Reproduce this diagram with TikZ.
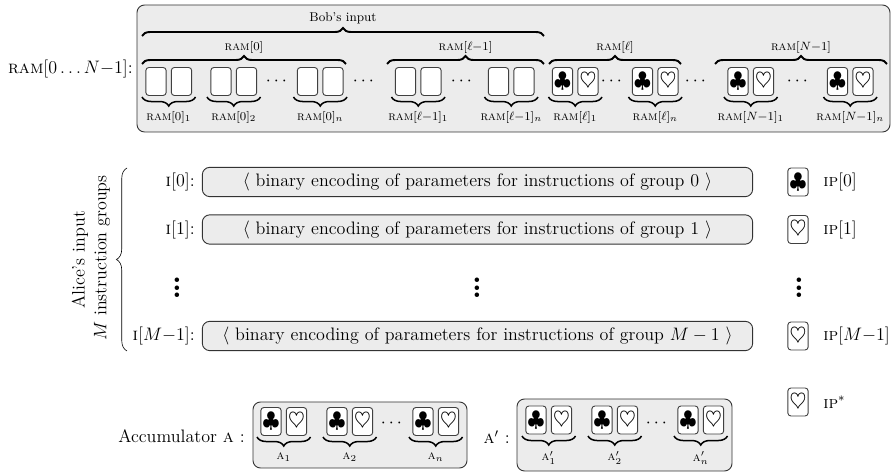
\documentclass[tikz,border=0pt,12pt]{standalone}
\usepackage{amssymb,amsmath}
\usepackage{tikz}
\usetikzlibrary{decorations.pathreplacing}

\definecolor{boxgray}{gray}{0.925}
\newcommand{\ram}{\text{\textsc{ram}}}
\newcommand{\ipt}{\text{\textsc{ip}}}
\newcommand{\clubs}{\large$\clubsuit$}
\newcommand{\hearts}{\raisebox{1pt}{\large$\heartsuit$}}
\newcommand{\tallvdots}{\vbox{\baselineskip5pt\lineskiplimit0pt\hbox{.}\hbox{.}\hbox{.}}}

\tikzset{
  panel/.style={draw=black!80,fill=boxgray,rounded corners=5pt,line width=0.6pt},
  card/.style={draw=black!75,fill=white,rounded corners=2pt,line width=0.6pt,minimum width=13.5pt,minimum height=18.6pt,inner sep=0pt},
  small/.style={font=\fontsize{8.5}{10}\selectfont,inner sep=0pt},
  curlyup/.style={decorate,decoration={brace,amplitude=5.3pt},line width=1.3pt},
  curlydown/.style={decorate,decoration={brace,mirror,amplitude=6pt},line width=1pt},
  label/.style={inner sep=0pt}
}

\begin{document}
\begin{tikzpicture}[x=0.665pt,y=-0.665pt]
    \useasboundingbox (0,0) rectangle (892,472);

    % ram
    \draw [panel] (137,5) rectangle (890,132);
    \node [label,anchor=east] (ramall) at (133,69) {$\ram[0\ldots N{-}1]$:};
    \node [small] (bob) at (343,18) {Bob's input};
    \coordinate (bobl) at (142,36);
    \coordinate (bobr) at (544,36);
    \draw [curlyup] (bobl) -- (bobr);

    % empty pairs and full pairs of the memory
    \foreach \nm/\cx/\lab in {a/156/{\ram[0]_1},b/221/{\ram[0]_2},c/307.5/{\ram[0]_n},d/405.5/{\ram[\ell{-}1]_1},e/498.5/{\ram[\ell{-}1]_n}}{
      \node [card] (\nm L) at (\cx,81.5) {};
      \node [card] (\nm R) at (\cx+25.5,81.5) {};
      \coordinate (\nm s) at (\cx-14,97);
      \coordinate (\nm t) at (\cx+39.5,97);
      \draw [curlydown] (\nm s) -- (\nm t);
      \node [small] (\nm lab) at (\cx+12.75,117) {$\lab$};
    }
    \foreach \nm/\cx/\lab in {f/562.5/{\ram[\ell]_1},g/642.5/{\ram[\ell]_n},h/738/{\ram[N{-}1]_1},i/837.5/{\ram[N{-}1]_n}}{
      \node [card] (\nm L) at (\cx,81.5) {\clubs};
      \node [card] (\nm R) at (\cx+25.5,81.5) {\hearts};
      \coordinate (\nm s) at (\cx-14,97);
      \coordinate (\nm t) at (\cx+39.5,97);
      \draw [curlydown] (\nm s) -- (\nm t);
      \node [small] (\nm lab) at (\cx+12.75,117) {$\lab$};
    }
    \foreach \nm/\l/\r/\lab in {p/142/346/{\ram[0]},q/387/544/{\ram[\ell{-}1]},r/549/681/{\ram[\ell]},s/715/887/{\ram[N{-}1]}}{
      \coordinate (\nm l) at (\l,64);
      \coordinate (\nm r) at (\r,64);
      \draw [curlyup] (\nm l) -- (\nm r);
      \node [small] (\nm up) at ({(\l+\r)/2},47) {$\lab$};
    }
    \foreach \x in {278,365,463,613,697,799}
      \node [label] (dots\x) at (\x,81) {$\cdots$};

    % instructions
    \foreach \nm/\y/\lab/\grp in {ia/182/{[0]}/{0},ib/229.5/{[1]}/{1},ic/336/{[M{-}1]}/{M-1}}{
      \node [panel,minimum width=366pt,minimum height=19.5pt,inner sep=0pt] (\nm) at (477.5,\y) {$\langle$ binary encoding of parameters for instructions of group $\grp$ $\rangle$};
      \node [label,anchor=east] (\nm lab) at (195,\y) {\textsc{i}$\lab$:};
    }
    \foreach \nm/\y/\lab/\s in {ja/182/{[0]}/\clubs,jb/229.5/{[1]}/\hearts,jc/336/{[M{-}1]}/\hearts,jd/402/{^*}/\hearts}{
      \node [card] (\nm) at (798,\y) {\s};
      \node [label,font=\fontsize{11.5}{14}\selectfont,anchor=west] (\nm lab) at (823,\y) {$\ipt\lab$};
    }
    \foreach \x in {177,477,799}
      \node [label,font=\LARGE\bfseries] (vdots\x) at (\x,288) {\tallvdots};

    \coordinate (grpb) at (127,351);
    \coordinate (grpt) at (127,168);
    \draw [decorate,decoration={brace,amplitude=7pt},thin] (grpb) -- (grpt);
    \node [rotate=90,label] (alice) at (80,260) {Alice's input};
    \node [rotate=90,label] (groups) at (102,258) {$M$ instruction groups};

    % accumulators
    \draw [panel] (253,402) rectangle (467,468);
    \node [label,anchor=east] (acca) at (245,436) {Accumulator \textsc{a} :};
    \foreach \nm/\cx/\lab in {k/271/{_1},l/337/{_2},m/423/{_n}}{
      \node [card] (\nm L) at (\cx,421.5) {\clubs};
      \node [card] (\nm R) at (\cx+25.5,421.5) {\hearts};
      \coordinate (\nm s) at (\cx-14,437);
      \coordinate (\nm t) at (\cx+39.5,437);
      \draw [curlydown] (\nm s) -- (\nm t);
      \node [small] (\nm lab) at (\cx+12.75,457) {\textsc{a}$\lab$};
    }
    \node [label] (dotsa) at (393,423) {$\cdots$};

    \draw [panel] (517,399) rectangle (732,471);
    \node [label,anchor=east] (accb) at (510,437) {\textsc{a}$'$ :};
    \foreach \nm/\cx/\lab in {u/536/{_1},v/602/{_2},w/688/{_n}}{
      \node [card] (\nm L) at (\cx,420) {\clubs};
      \node [card] (\nm R) at (\cx+25.5,420) {\hearts};
      \coordinate (\nm s) at (\cx-14,436);
      \coordinate (\nm t) at (\cx+39.5,436);
      \draw [curlydown] (\nm s) -- (\nm t);
      \node [small] (\nm lab) at (\cx+12.75,458) {\textsc{a}$'\lab$};
    }
    \node [label] (dotsb) at (658,423) {$\cdots$};

\end{tikzpicture}
\end{document}
